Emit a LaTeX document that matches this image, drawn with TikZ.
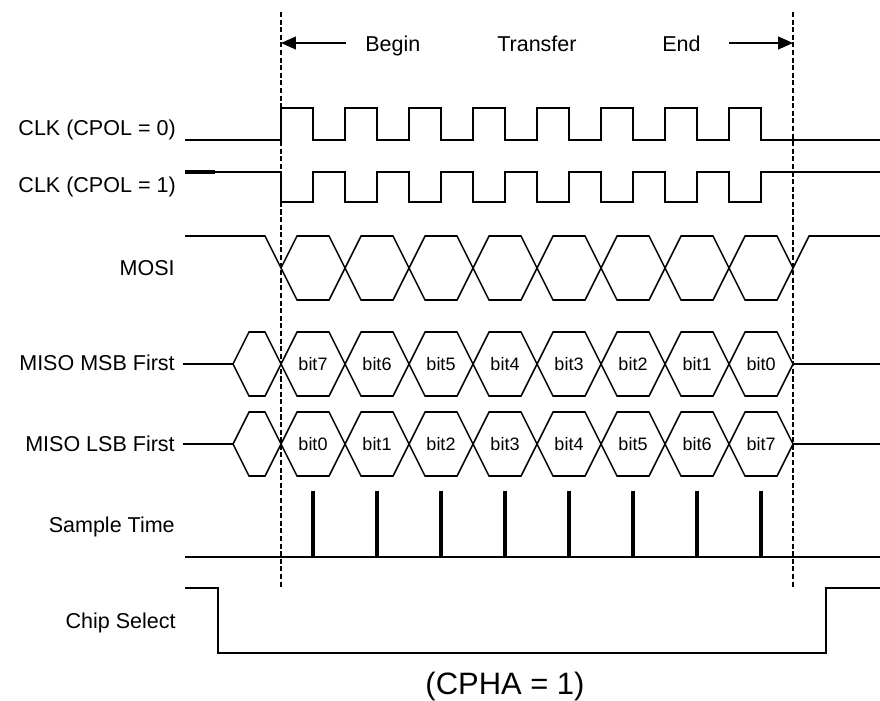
\documentclass[tikz,border=0pt]{standalone}
\usepackage{fontspec}
\setmainfont{Liberation Sans}
\usetikzlibrary{arrows.meta}

\begin{document}
\begin{tikzpicture}[
  x=0.025cm, y=-0.025cm,
  sig/.style={line width=1.1pt, line join=miter},
  guide/.style={line width=1.7pt, dash pattern=on 3.6pt off 1.8pt},
  arr/.style={-{Triangle[length=10.5pt, width=9pt]}, line width=1.1pt},
  lbl/.style={anchor=base east, inner sep=0pt, font=\fontsize{15.3}{18}\selectfont},
  toplbl/.style={anchor=base west, inner sep=0pt, font=\fontsize{15.3}{18}\selectfont},
  bitlbl/.style={inner sep=0pt, font=\fontsize{12.8}{15}\selectfont},
  strobe/.style={line width=3.2pt}
]
  \useasboundingbox (0,0) rectangle (880,700);

  % signal names
  \node[lbl] (clk0) at (176,135) {CLK (CPOL = 0)};
  \node[lbl] (clk1) at (176,192) {CLK (CPOL = 1)};
  \node[lbl] (mosi) at (175,275) {MOSI};
  \node[lbl] (msb)  at (175,370) {MISO MSB First};
  \node[lbl] (lsb)  at (175,451) {MISO LSB First};
  \node[lbl] (smp)  at (175,532) {Sample Time};
  \node[lbl] (cs)   at (176,628) {Chip Select};

  % transfer window
  \coordinate (gl) at (281,43);
  \coordinate (gr) at (793,43);
  \coordinate (al) at (346,43);
  \coordinate (ar) at (729,43);
  \draw[guide] (281,12) -- (281,588);
  \draw[guide] (793,12) -- (793,588);
  \draw[arr] (al) -- (gl);
  \draw[arr] (ar) -- (gr);
  \node[toplbl] (tb) at (365,51) {Begin};
  \node[toplbl] (tt) at (497,51) {Transfer};
  \node[toplbl] (te) at (662,51) {End};

  % clocks
  \draw[sig] (185,140) -- (281,140)
    \foreach \k in {0,...,7}{
      -- ({281+64*\k},108) -- ({313+64*\k},108)
      -- ({313+64*\k},140) -- ({345+64*\k},140)}
    -- (880,140);
  \draw[line width=2.2pt] (185,172) -- (215,172);
  \draw[sig] (185,172) -- (281,172)
    \foreach \k in {0,...,7}{
      -- ({281+64*\k},202) -- ({313+64*\k},202)
      -- ({313+64*\k},172) -- ({345+64*\k},172)}
    -- (880,172);

  % MOSI
  \draw[sig] (185,236) -- (265,236) -- (281,268);
  \foreach \k in {0,...,7}
    \draw[sig] ({281+64*\k},268) -- ({297+64*\k},236) -- ({329+64*\k},236)
      -- ({345+64*\k},268) -- ({329+64*\k},300) -- ({297+64*\k},300) -- cycle;
  \draw[sig] (793,268) -- (809,236) -- (880,236);

  % MISO, MSB first
  \draw[sig] (183,364) -- (233,364) -- (249,332) -- (265,332) -- (281,364)
    -- (265,396) -- (249,396) -- (233,364);
  \foreach \b [count=\k from 0] in {7,...,0}{
    \draw[sig] ({281+64*\k},364) -- ({297+64*\k},332) -- ({329+64*\k},332)
      -- ({345+64*\k},364) -- ({329+64*\k},396) -- ({297+64*\k},396) -- cycle;
    \node[bitlbl] (m\b) at ({313+64*\k},364) {bit\b};
  }
  \draw[sig] (793,364) -- (880,364);

  % MISO, LSB first
  \draw[sig] (183,444) -- (233,444) -- (249,412) -- (265,412) -- (281,444)
    -- (265,476) -- (249,476) -- (233,444);
  \foreach \b [count=\k from 0] in {0,...,7}{
    \draw[sig] ({281+64*\k},444) -- ({297+64*\k},412) -- ({329+64*\k},412)
      -- ({345+64*\k},444) -- ({329+64*\k},476) -- ({297+64*\k},476) -- cycle;
    \node[bitlbl] (l\b) at ({313+64*\k},444) {bit\b};
  }
  \draw[sig] (793,444) -- (880,444);

  % sample points
  \draw[sig] (185,557) -- (880,557);
  \foreach \k in {0,...,7}
    \draw[strobe] ({313+64*\k},491) -- ({313+64*\k},557);

  % chip select
  \draw[sig] (185,588) -- (218,588) -- (218,653) -- (826,653) -- (826,588) -- (880,588);

  \node[anchor=base, inner sep=0pt, font=\fontsize{22}{26}\selectfont] (cpha) at (505,694) {(CPHA = 1)};
\end{tikzpicture}
\end{document}
